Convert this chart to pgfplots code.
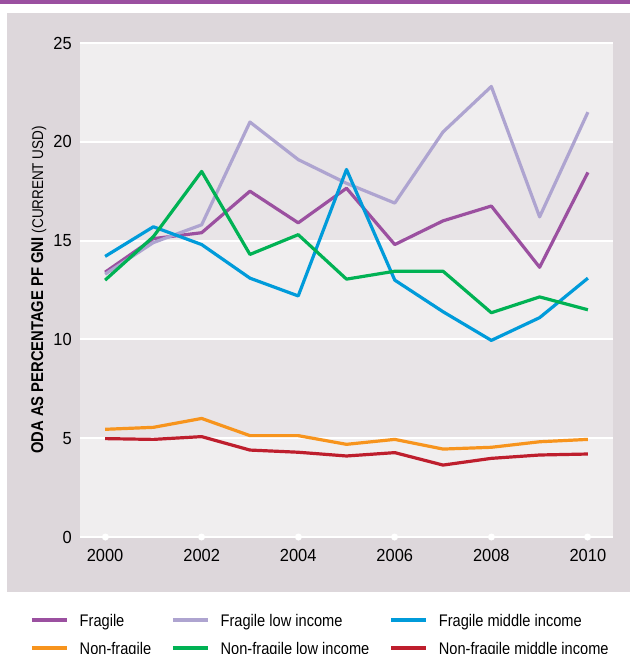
\documentclass[border=0pt]{standalone}
\usepackage{fontspec}
\setmainfont{Liberation Sans}[FakeStretch=0.87]
\newfontfamily\tickfont{Liberation Sans}[FakeStretch=0.94]
\usepackage{pgfplots}
\usepackage{pgfplotstable}
\usetikzlibrary{calc}
\pgfplotsset{compat=1.18}

\definecolor{panel}{RGB}{221,215,219}
\definecolor{bandA}{RGB}{240,238,239}
\definecolor{bandB}{RGB}{232,228,231}
\definecolor{cFrag}{RGB}{155,80,160}
\definecolor{cFragLow}{RGB}{174,164,208}
\definecolor{cFragMid}{RGB}{0,155,218}
\definecolor{cNon}{RGB}{247,148,29}
\definecolor{cNonLow}{RGB}{0,178,84}
\definecolor{cNonMid}{RGB}{190,30,45}

% ODA as % of GNI, 2000-2010
\pgfplotstableread{
year frag fraglow fragmid non nonlow nonmid
2000 13.4 13.3 14.2 5.45 13.0 4.98
2001 15.1 14.9 15.7 5.55 15.2 4.94
2002 15.4 15.8 14.8 6.00 18.5 5.08
2003 17.5 21.0 13.1 5.13 14.3 4.40
2004 15.9 19.1 12.2 5.13 15.3 4.29
2005 17.65 17.9 18.6 4.69 13.05 4.10
2006 14.8 16.9 13.0 4.94 13.45 4.27
2007 16.0 20.5 11.4 4.45 13.45 3.64
2008 16.75 22.8 9.95 4.54 11.35 3.98
2009 13.65 16.2 11.1 4.82 12.15 4.15
2010 18.45 21.5 13.1 4.94 11.5 4.20
}\odadata

% horizontal band between fractions #1 and #2 of the axis height
\newcommand\band[2]{%
  \fill[bandB] ($(path picture bounding box.south west)!#1!(path picture bounding box.north west)$)
    rectangle ($(path picture bounding box.south east)!#2!(path picture bounding box.north east)$);}

\begin{document}
\begin{tikzpicture}
\fill[cFrag] (0,0) rectangle (630pt,-4pt);
\fill[panel] (7pt,-13pt) rectangle (630pt,-592pt);
\begin{axis}[
  at={(80pt,-537pt)}, anchor=south west,
  scale only axis, width=533pt, height=494pt,
  xmin=1999.48, xmax=2010.52, ymin=0, ymax=25,
  axis line style={draw=none},
  axis background/.style={fill=bandA, path picture={\band{0.2}{0.4}\band{0.6}{0.8}}},
  xtick={2000,2002,...,2010}, ytick={0,5,...,25},
  tick pos=left, tick align=center,
  major tick length=0.01pt,
  xtick style={white, line width=7pt, line cap=round},
  ytick style={draw=none},
  ymajorgrids, grid style={white, line width=2pt},
  /pgf/number format/assume math mode=true,
  xticklabel style={font=\tickfont\fontsize{17.5}{20}\selectfont, /pgf/number format/1000 sep={}, inner sep=0pt, anchor=north, yshift=-12pt},
  yticklabel style={font=\tickfont\fontsize{17.5}{20}\selectfont, inner sep=0pt, anchor=east, xshift=-8pt},
  ylabel={\textbf{ODA AS PERCENTAGE PF GNI} {\fontsize{15.5}{16}\selectfont(CURRENT USD)}},
  every axis y label/.style={at={(axis description cs:-0.0694,0.5)}, anchor=base, rotate=90, inner sep=0pt, font=\fontsize{17}{18}\selectfont},
  every axis plot/.append style={line width=3.2pt, line join=round, mark=none},
  legend columns=3,
  legend style={at={(axis description cs:-0.0938,-0.1559)}, anchor=north west, draw=none, fill=none, inner sep=0pt,
    font=\fontsize{16.8}{20}\selectfont,
    nodes={inner sep=0pt, text height=12pt, text depth=3pt, anchor=base west},
    row sep=13pt},
  legend cell align=left,
  /tikz/every odd column/.append style={column sep=11pt},
  /tikz/every even column/.append style={column sep=20pt},
  legend image code/.code={\draw[#1, line width=3.5pt] (0pt,6pt) -- (35pt,6pt);},
]
\addplot[cFrag] table[x=year, y=frag] {\odadata};
\addlegendentry{Fragile}
\addplot[cFragLow] table[x=year, y=fraglow] {\odadata};
\addlegendentry{Fragile low income}
\addplot[cFragMid] table[x=year, y=fragmid] {\odadata};
\addlegendentry{Fragile middle income}
\addplot[cNon] table[x=year, y=non] {\odadata};
\addlegendentry{Non-fragile}
\addplot[cNonLow] table[x=year, y=nonlow] {\odadata};
\addlegendentry{Non-fragile low income}
\addplot[cNonMid] table[x=year, y=nonmid] {\odadata};
\addlegendentry{Non-fragile middle income}
\end{axis}
\pgfresetboundingbox
\path[use as bounding box] (0,0) rectangle (630pt,-654pt);
\end{tikzpicture}
\end{document}
